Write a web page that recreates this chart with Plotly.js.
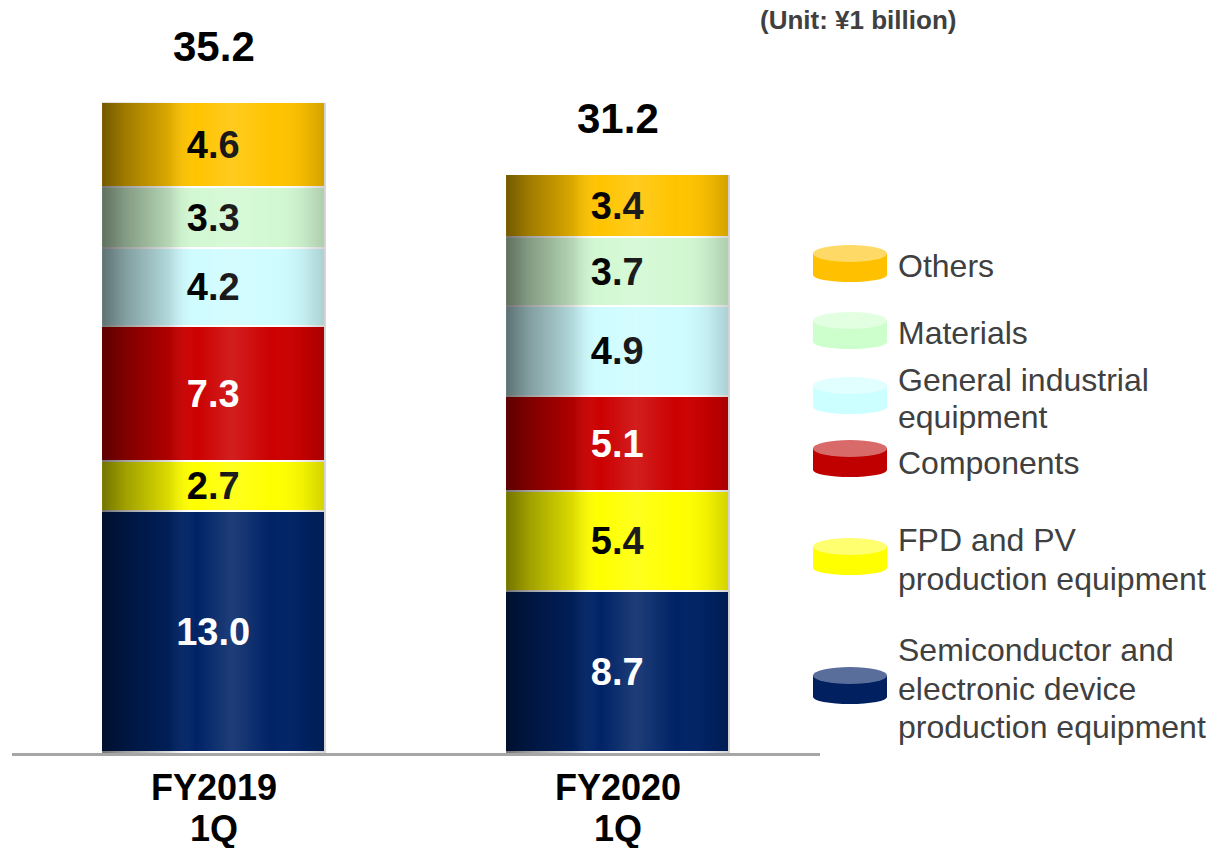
<!DOCTYPE html>
<html>
<head>
<meta charset="utf-8">
<script src="https://cdn.plot.ly/plotly-3.0.1.min.js"></script>
<style>
  html, body { margin: 0; padding: 0; background: #ffffff; }
  #chart { width: 1209px; height: 848px; }
</style>
</head>
<body>
<div id="chart"></div>
<script>
// ---------------- DATA ----------------
const periods = ["FY2019 1Q", "FY2020 1Q"];
const periodLines = [["FY2019", "1Q"], ["FY2020", "1Q"]];
const seriesNames = [
  "Semiconductor and electronic device production equipment",
  "FPD and PV production equipment",
  "Components",
  "General industrial equipment",
  "Materials",
  "Others"
];
const legendLines = [
  ["Semiconductor and", "electronic device", "production equipment"],
  ["FPD and PV", "production equipment"],
  ["Components"],
  ["General industrial", "equipment"],
  ["Materials"],
  ["Others"]
];
const semiconductor = [13.0, 8.7];
const fpdPv = [2.7, 5.4];
const components = [7.3, 5.1];
const generalIndustrial = [4.2, 4.9];
const materials = [3.3, 3.7];
const others = [4.6, 3.4];
const totals = [35.2, 31.2];
const unitLabel = "(Unit: ¥1 billion)";

// ---------------- STYLE ----------------
const seriesValues = [semiconductor, fpdPv, components, generalIndustrial, materials, others];
const barColors = ["#002366", "#FFFF00", "#CC0000", "#CFFCFF", "#D2F8D2", "#FFC400"];
const iconColors = ["#002060", "#FFFF00", "#C00000", "#CCFFFF", "#CCFFCC", "#FFC000"];
const iconTopColors = ["#5A6E9C", "#FFFF70", "#D86A6A", "#E2FFFF", "#E2FFE2", "#FFD966"];
const textColors = ["#FFFFFF", "#000000", "#FFFFFF", "#000000", "#000000", "#000000"];
const FONT = "Liberation Sans, Arial, Helvetica, sans-serif";
const BAR_W = 0.554;

// pixel geometry helpers (layout only)
const W = 1209, H = 848;
const M = { l: 12, r: 389, t: 12, b: 95 };
const plotW = W - M.l - M.r, plotH = H - M.t - M.b;
const px2x = p => (p - M.l) / plotW;
const px2y = p => (H - M.b - p) / plotH;

// legend layout (pixel centers), indexed like seriesNames
const legendIconY = [685, 556, 458, 395, 330, 263];
const legendTextY = [[650, 689, 727], [540, 579], [463], [380, 417], [333], [266]];

const xIdx = periods.map((_, i) => i);
const traces = [];

seriesValues.forEach((vals, s) => {
  traces.push({
    type: "bar",
    name: seriesNames[s],
    x: xIdx,
    y: vals,
    width: BAR_W,
    marker: { color: barColors[s], line: { color: "#FFFFFF", width: 1.6 } },
    text: vals.map(v => v.toFixed(1)),
    textposition: "inside",
    insidetextanchor: "middle",
    constraintext: "none",
    textangle: 0,
    textfont: { family: FONT, size: 38, color: textColors[s], weight: "bold" },
    hovertemplate: "%{customdata}<br>" + seriesNames[s] + ": %{y:.1f}<extra></extra>",
    customdata: periods,
    showlegend: false
  });
});

// cylinder shading overlay, one per bar, built from the stacked sums
const stackTop = xIdx.map(i => seriesValues.reduce((a, v) => a + v[i], 0));
xIdx.forEach(i => {
  const x0 = i - BAR_W / 2, x1 = i + BAR_W / 2;
  traces.push({
    type: "scatter",
    mode: "lines",
    x: [x0, x1, x1, x0, x0],
    y: [0, 0, stackTop[i], stackTop[i], 0],
    fill: "toself",
    line: { width: 0, color: "rgba(0,0,0,0)" },
    fillgradient: {
      type: "horizontal",
      colorscale: [
        [0.0, "rgba(0,0,0,0.55)"],
        [0.1, "rgba(0,0,0,0.38)"],
        [0.3, "rgba(0,0,0,0.14)"],
        [0.42, "rgba(255,255,255,0)"],
        [0.58, "rgba(255,255,255,0.12)"],
        [0.76, "rgba(255,255,255,0)"],
        [0.9, "rgba(0,0,0,0.06)"],
        [1.0, "rgba(0,0,0,0.18)"]
      ]
    },
    hoverinfo: "skip",
    showlegend: false
  });
});

const annotations = [];
// totals above bars
xIdx.forEach(i => {
  annotations.push({
    x: i, y: stackTop[i], xref: "x", yref: "y",
    text: totals[i].toFixed(1), showarrow: false,
    yanchor: "bottom", yshift: 31,
    font: { family: FONT, size: 42, color: "#000000", weight: "bold" }
  });
});
// category labels (two lines)
xIdx.forEach(i => {
  periodLines[i].forEach((ln, k) => {
    annotations.push({
      x: i, xref: "x", y: px2y(787 + k * 41), yref: "paper",
      text: ln, showarrow: false, yanchor: "middle",
      font: { family: FONT, size: 36, color: "#000000", weight: "bold" }
    });
  });
});
// unit label
annotations.push({
  x: px2x(858), y: px2y(20), xref: "paper", yref: "paper",
  text: unitLabel, showarrow: false, xanchor: "center", yanchor: "middle",
  font: { family: FONT, size: 26, color: "#404040", weight: "bold" }
});
// legend (text + cylinder icons)
const shapes = [];
seriesNames.forEach((n, s) => {
  legendLines[s].forEach((ln, k) => {
    annotations.push({
      x: px2x(896), y: px2y(legendTextY[s][k]), xref: "paper", yref: "paper",
      text: ln, showarrow: false, xanchor: "left", yanchor: "middle",
      font: { family: FONT, size: 32, color: "#404040" }
    });
  });
  const cy = legendIconY[s];
  const xl = px2x(813), xr = px2x(887);
  shapes.push({ type: "rect", xref: "paper", yref: "paper", x0: xl, x1: xr,
    y0: px2y(cy + 12), y1: px2y(cy - 9), fillcolor: iconColors[s], line: { width: 0 } });
  shapes.push({ type: "circle", xref: "paper", yref: "paper", x0: xl, x1: xr,
    y0: px2y(cy + 19), y1: px2y(cy + 5), fillcolor: iconColors[s], line: { width: 0 } });
  shapes.push({ type: "circle", xref: "paper", yref: "paper", x0: xl, x1: xr,
    y0: px2y(cy - 1), y1: px2y(cy - 18), fillcolor: iconTopColors[s], line: { width: 0 } });
});

const layout = {
  width: W, height: H,
  margin: M,
  paper_bgcolor: "#FFFFFF",
  plot_bgcolor: "#FFFFFF",
  barmode: "stack",
  bargap: 0,
  showlegend: false,
  xaxis: {
    range: [-0.5, 1.5],
    tickvals: xIdx,
    ticktext: periods,
    showticklabels: false,
    showgrid: false,
    zeroline: false,
    showline: true,
    linecolor: "#A6A6A6",
    linewidth: 3,
    ticks: "",
    fixedrange: true
  },
  yaxis: {
    range: [0, 40],
    visible: false,
    showgrid: false,
    zeroline: false,
    fixedrange: true
  },
  annotations: annotations,
  shapes: shapes,
  font: { family: FONT }
};

Plotly.newPlot("chart", traces, layout, { displayModeBar: false });
</script>
</body>
</html>
